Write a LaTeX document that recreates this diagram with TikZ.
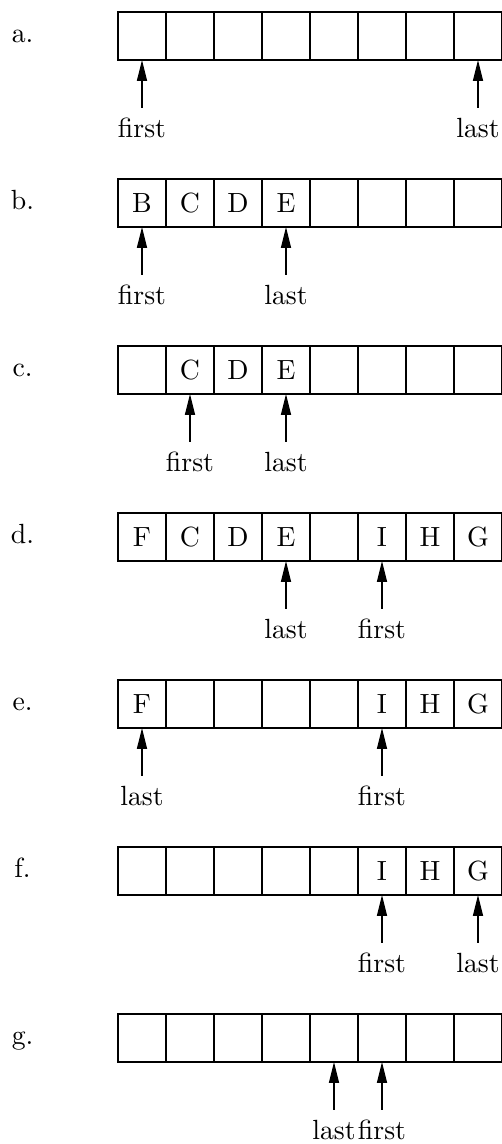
\documentclass[tikz,border=0pt]{standalone}
\usepackage{amsmath}
\usepackage{tikz}
\usetikzlibrary{arrows.meta}

\begin{document}
\begin{tikzpicture}[x=0.608cm,y=0.608cm,
        cell/.style={draw,line width=0.5pt,minimum size=0.608cm,inner sep=0pt,outer sep=0pt},
        ptr/.style={line width=0.5pt,-{Triangle[length=7.5pt,width=3.6pt]}},
        ptrlabel/.style={anchor=north}]
        % Define the letters of each row
        \def\Letters{{{"","","","","","","",""},{"B","C","D","E","","","",""},{"","C","D","E","","","",""},{"F","C","D","E","","I","H","G"},{"F","","","","","I","H","G"},{"","","","","","I","H","G"},{"","","","","","","",""}}}
        \def\Rows{{"a.","b.","c.","d.","e.","f.","g."}}
        % Define where first and last point
        \def\First{{0,0,1,5,5,5,5}}
        \def\Last{{7,3,3,3,0,7,4}}
        \useasboundingbox (0,0) rectangle (10.458,-23.833);
        \foreach \y in {0,...,6} {
            \pgfmathsetmacro{\rowtop}{-0.25-3.479*\y}
            % Row label
            \node[anchor=base] (row\y) at (0.47,\rowtop-0.646) {\pgfmathparse{\Rows[\y]}\pgfmathresult};
            % Draw the cells
            \foreach \x in {0,...,7} {
                \node[cell] (c\y-\x) at (2.958+\x,\rowtop-0.5) {\pgfmathparse{\Letters[\y][\x]}\pgfmathresult};
            }
            % Draw the pointers
            \pgfmathtruncatemacro{\posfirst}{\First[\y]}
            \pgfmathtruncatemacro{\poslast}{\Last[\y]}
            \node[ptrlabel] (first\y) at (2.958+\posfirst,\rowtop-2) {first};
            \node[ptrlabel] (last\y) at (2.958+\poslast,\rowtop-2) {last};
            \draw[ptr] (first\y.north) -- (c\y-\posfirst.south);
            \draw[ptr] (last\y.north) -- (c\y-\poslast.south);
        }
\end{tikzpicture}
\end{document}
